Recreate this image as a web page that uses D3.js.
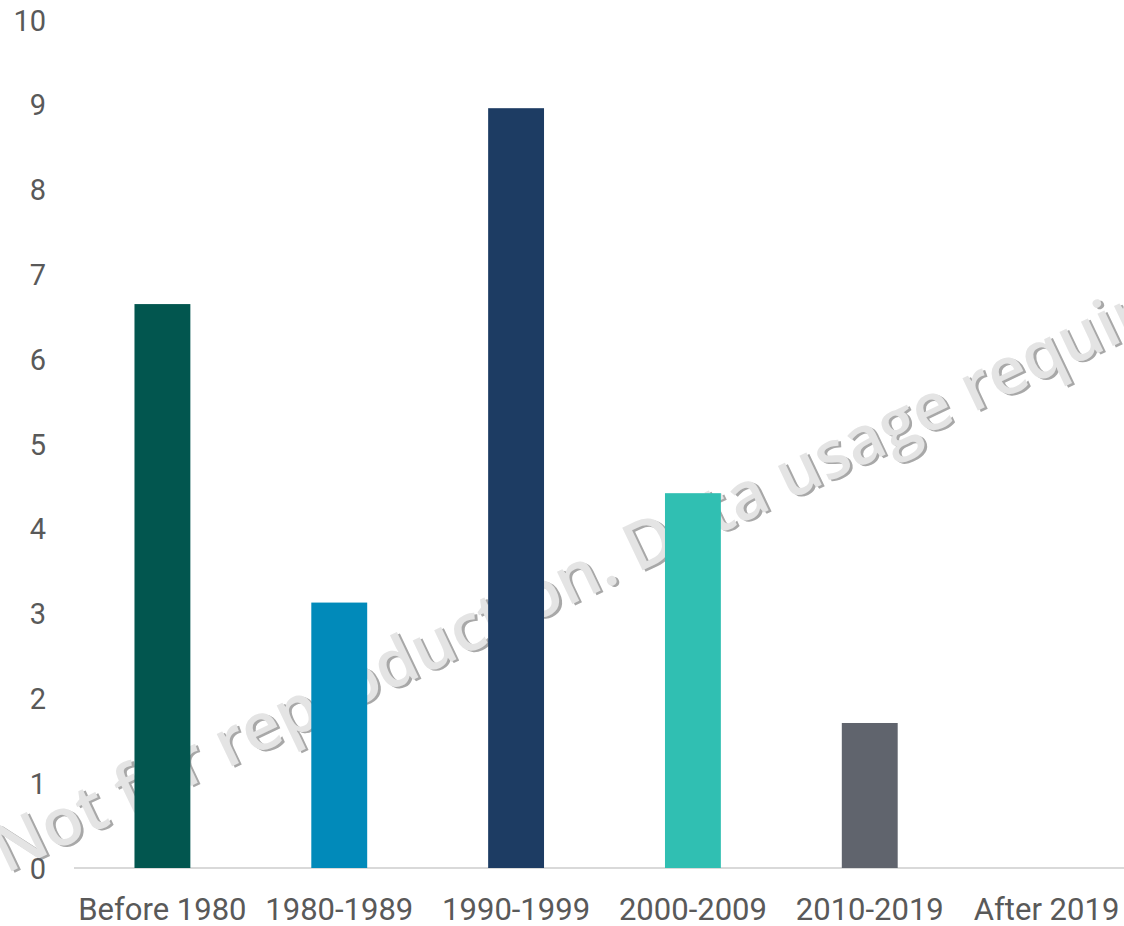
<!DOCTYPE html>
<html><head><meta charset="utf-8">
<script src="https://cdn.jsdelivr.net/npm/d3@7"></script>
<style>body{margin:0;background:#fff;}svg{display:block;}</style>
</head><body>
<svg id="chart" width="1124" height="926"></svg>
<script>
const categories = ["Before 1980","1980-1989","1990-1999","2000-2009","2010-2019","After 2019"];
const values = [6.65, 3.13, 8.96, 4.42, 1.71, 0];
const colors = ["#02564F","#018ABA","#1D3C63","#30BFB2","#60646D","#999999"];
const yTicks = [0,1,2,3,4,5,6,7,8,9,10];
const watermark = "Not for reproduction. Data usage requires permission.";

const svg = d3.select("#chart");
const x = d3.scaleBand().domain(categories).range([74, 1135]).paddingInner(0.684).paddingOuter(0.342);
const y = d3.scaleLinear().domain([0, 10]).range([868, 20]);

// watermark (behind bars)
const wm = svg.append("g").attr("transform","translate(6,874) rotate(-25.5)");
wm.append("text").attr("x",2).attr("y",2.5).text(watermark)
  .attr("font-family","Open Sans").attr("font-weight",600).attr("font-size",66).attr("fill","#a8a8a8");
wm.append("text").text(watermark)
  .attr("font-family","Open Sans").attr("font-weight",600).attr("font-size",66).attr("fill","#e4e4e4");

// baseline
svg.append("line").attr("x1",74).attr("x2",1124).attr("y1",y(0)).attr("y2",y(0))
  .attr("stroke","#d9d9d9").attr("stroke-width",2);

// bars
svg.selectAll("rect.bar").data(categories).join("rect").attr("class","bar")
  .attr("x", d => x(d)).attr("width", x.bandwidth())
  .attr("y", (d,i) => y(values[i])).attr("height", (d,i) => y(0) - y(values[i]))
  .attr("fill", (d,i) => colors[i]);

// y axis
const yAxis = svg.append("g").attr("transform","translate(46,0)")
  .call(d3.axisLeft(y).tickValues(yTicks).tickSize(0).tickPadding(0));
yAxis.select(".domain").remove();
yAxis.selectAll("text").attr("font-family","Roboto").attr("font-size",29).attr("fill","#595959").attr("dy","0.35em");

// x axis
const xAxis = svg.append("g").attr("transform",`translate(0,${y(0)})`)
  .call(d3.axisBottom(x).tickSize(0).tickPadding(0));
xAxis.select(".domain").remove();
xAxis.selectAll("text").attr("font-family","Roboto").attr("font-size",31).attr("fill","#595959")
  .attr("dy",null).attr("y",52);
</script>
</body></html>
